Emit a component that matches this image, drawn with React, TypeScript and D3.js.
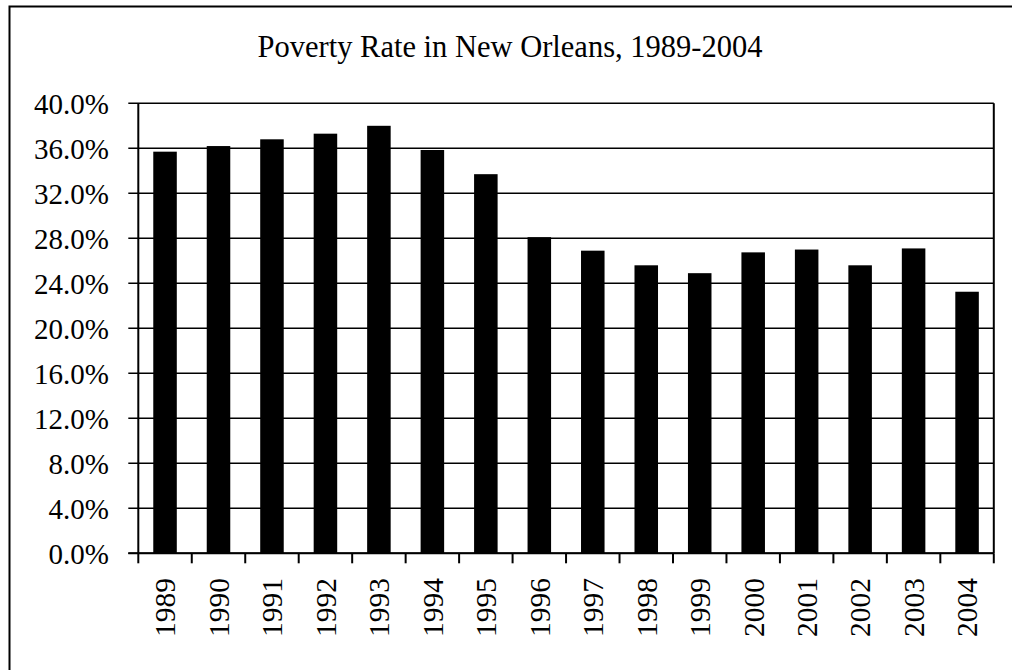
import React from "react";
import * as d3 from "d3";

const years: string[] = ["1989","1990","1991","1992","1993","1994","1995","1996","1997","1998","1999","2000","2001","2002","2003","2004"];
const povertyRate: number[] = [35.7, 36.2, 36.8, 37.3, 38.0, 35.85, 33.7, 28.1, 26.9, 25.6, 24.9, 26.75, 27.0, 25.6, 27.1, 23.25];
const yTicks: number[] = [0, 4, 8, 12, 16, 20, 24, 28, 32, 36, 40];
const title = "Poverty Rate in New Orleans, 1989-2004";

const W = 1012;
const H = 670;
const left = 138.3;
const right = 993.8;
const top = 103.3;
const bottom = 553.3;
const font = "'Liberation Serif', 'Times New Roman', serif";

export default function App() {
  const x = d3.scaleBand<string>().domain(years).range([left, right]).paddingInner(0.56).paddingOuter(0.28);
  const band = d3.scaleBand<string>().domain(years).range([left, right]).padding(0);
  const y = d3.scaleLinear().domain([0, 40]).range([bottom, top]);

  return (
    <svg width={W} height={H} style={{ position: "fixed", left: 0, top: 0, background: "#fff" }}>
      <rect x={0} y={0} width={W} height={H} fill="#fff" />
      {/* outer frame */}
      <path d={`M9.5,${H + 10} L9.5,6.5 L${W + 10},6.5`} fill="none" stroke="#000" strokeWidth={2} />
      <text x={510} y={57.3} textAnchor="middle" fontFamily={font} fontSize={30.5} fill="#000">{title}</text>

      {/* gridlines */}
      {yTicks.map((t) => (
        <line key={"g" + t} x1={left - 10} x2={right} y1={y(t)} y2={y(t)} stroke="#000" strokeWidth={1.6} />
      ))}
      {/* y labels */}
      {yTicks.map((t) => (
        <text key={"l" + t} x={109} y={y(t)} dy="0.36em" textAnchor="end" fontFamily={font} fontSize={29} fill="#000">
          {t.toFixed(1) + "%"}
        </text>
      ))}

      {/* bars */}
      {years.map((yr, i) => (
        <rect key={yr} x={x(yr)} y={y(povertyRate[i])} width={x.bandwidth()} height={bottom - y(povertyRate[i])} fill="#000" />
      ))}

      {/* axes */}
      <line x1={left} x2={left} y1={top} y2={bottom} stroke="#000" strokeWidth={2} />
      <line x1={right} x2={right} y1={top} y2={bottom} stroke="#000" strokeWidth={2} />
      <line x1={left - 10} x2={right} y1={bottom} y2={bottom} stroke="#000" strokeWidth={2} />
      {years.map((yr) => (
        <line key={"t" + yr} x1={band(yr)} x2={band(yr)} y1={bottom} y2={bottom + 10} stroke="#000" strokeWidth={2} />
      ))}
      <line x1={right} x2={right} y1={bottom} y2={bottom + 10} stroke="#000" strokeWidth={2} />

      {/* x labels */}
      {years.map((yr) => {
        const cx = (band(yr) as number) + band.bandwidth() / 2;
        return (
          <text key={"x" + yr} transform={`translate(${cx},578) rotate(-90)`} dy="0.35em" textAnchor="end"
            fontFamily={font} fontSize={29.5} fill="#000">{yr}</text>
        );
      })}
    </svg>
  );
}
